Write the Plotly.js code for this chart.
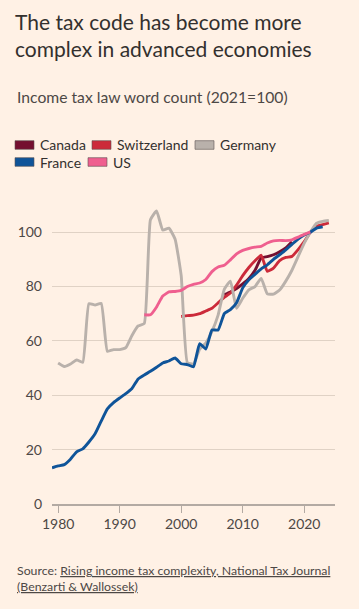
<!DOCTYPE html>
<html>
<head>
<meta charset="utf-8">
<script src="https://cdn.plot.ly/plotly-3.0.1.min.js"></script>
<style>
  html, body { margin: 0; padding: 0; background: #fff1e5; }
  #chart { width: 359px; height: 609px; }
</style>
</head>
<body>
<div id="chart"></div>
<script>
// ---- Data (income tax law word count, 2021 = 100) ----
const seriesNames = ["Canada", "Switzerland", "Germany", "France", "US"];
const seriesColors = ["#740f30", "#cc2a3a", "#b9b1ab", "#0f5499", "#ef5f8f"];

const canadaYears = [2007, 2008, 2009, 2010, 2011, 2012, 2013, 2014, 2015, 2016, 2017, 2018];
const canadaValues = [77, 78, 79.3, 81, 83, 86, 90.5, 91, 91.7, 92.8, 94.2, 96.5];

const switzerlandYears = [2000, 2001, 2002, 2003, 2004, 2005, 2006, 2007, 2008, 2009, 2010, 2011, 2012,
  2013, 2014, 2015, 2016, 2017, 2018, 2019, 2020, 2021, 2022, 2023, 2024];
const switzerlandValues = [69, 69.3, 69.5, 70, 71, 72, 74, 76, 77.6, 80.5, 84, 87, 89.5,
  91.5, 85.6, 86.8, 89.5, 90.7, 91.1, 93.6, 96.5, 100, 102.2, 102.8, 103.4];

const germanyYears = [1980, 1981, 1982, 1983, 1984, 1985, 1986, 1987, 1988, 1989, 1990, 1991, 1992,
  1993, 1994, 1995, 1996, 1997, 1998, 1999, 2000, 2001, 2002, 2003, 2004, 2005, 2006, 2007, 2008,
  2009, 2010, 2011, 2012, 2013, 2014, 2015, 2016, 2017, 2018, 2019, 2020, 2021, 2022, 2023, 2024];
const germanyValues = [51.9, 50.6, 51.5, 53, 52.1, 73.7, 73.2, 73.8, 56.2, 56.8, 56.8, 57.5, 62,
  65.5, 66.4, 104.6, 107.8, 100.8, 101.5, 97.5, 84, 52, 51.5, 57, 59.2, 63.5, 69.5, 79, 82,
  72, 75.7, 78.8, 80, 83, 77.3, 77.2, 78.7, 82, 86, 91, 96, 100, 103.3, 104, 104.3];

const franceYears = [1979, 1980, 1981, 1982, 1983, 1984, 1985, 1986, 1987, 1988, 1989, 1990, 1991,
  1992, 1993, 1994, 1995, 1996, 1997, 1998, 1999, 2000, 2001, 2002, 2003, 2004, 2005, 2006, 2007,
  2008, 2009, 2010, 2011, 2012, 2013, 2014, 2015, 2016, 2017, 2018, 2019, 2020, 2021, 2022, 2023];
const franceValues = [13.3, 14, 14.5, 16.5, 19.2, 20.3, 22.8, 25.8, 30.5, 35, 37.3, 39, 40.6,
  42.5, 46, 47.5, 48.8, 50.3, 51.9, 52.6, 53.7, 51.6, 51.3, 50.5, 59, 57, 64, 64, 70,
  71.5, 74, 79.5, 82.5, 84.5, 86.5, 88, 90, 91.7, 93.5, 95.5, 97.5, 99, 100, 101.5, 102];

const usYears = [1994, 1995, 1996, 1997, 1998, 1999, 2000, 2001, 2002, 2003, 2004, 2005, 2006, 2007,
  2008, 2009, 2010, 2011, 2012, 2013, 2014, 2015, 2016, 2017, 2018, 2019, 2020, 2021];
const usValues = [69.6, 69.6, 72.5, 76.5, 78, 78.2, 78.6, 80, 80.8, 81.3, 82.6, 85.5, 87.2, 87.8,
  89.8, 92, 93.3, 94, 94.5, 94.8, 96, 96.8, 97, 96.9, 97.2, 98.2, 99.2, 100];

const xTickVals = [1980, 1990, 2000, 2010, 2020];
const yTickVals = [0, 20, 40, 60, 80, 100];

const titleText = "The tax code has become more<br>complex in advanced economies";
const subtitleText = "Income tax law word count (2021=100)";
const sourceLine1 = "Source: <span style=\"text-decoration:underline\">Rising income tax complexity, National Tax Journal</span>";
const sourceLine2 = "<span style=\"text-decoration:underline\">(Benzarti &amp; Wallossek)</span>";

// ---- Layout geometry ----
const W = 359, H = 609;
const M = { l: 52, r: 24, t: 205, b: 105 };
const PW = W - M.l - M.r, PH = H - M.t - M.b;
const px = x => (x - M.l) / PW;          // pixel -> paper x
const py = y => (H - M.b - y) / PH;      // pixel -> paper y

const FONT = "Lato, 'Noto Sans', sans-serif";

const allX = [canadaYears, switzerlandYears, germanyYears, franceYears, usYears];
const allY = [canadaValues, switzerlandValues, germanyValues, franceValues, usValues];

const traces = seriesNames.map((name, i) => ({
  type: "scatter",
  mode: "lines",
  name: name,
  x: allX[i],
  y: allY[i],
  line: { color: seriesColors[i], width: 2.9, shape: "spline", smoothing: 0.4 },
  showlegend: false,
  hoverinfo: "x+y+name"
}));

// ---- Custom legend (rectangle swatches) ----
const legendPos = [
  { x: 15, y: 145 }, { x: 92, y: 145 }, { x: 195, y: 145 },
  { x: 15, y: 162 }, { x: 88, y: 162 }
];
const shapes = [];
const annotations = [];
seriesNames.forEach((name, i) => {
  const p = legendPos[i];
  shapes.push({
    type: "rect", xref: "paper", yref: "paper",
    x0: px(p.x), x1: px(p.x + 19), y0: py(p.y + 4.3), y1: py(p.y - 4.3),
    fillcolor: seriesColors[i], line: { color: "#5a5350", width: 0.6 }
  });
  annotations.push({
    xref: "paper", yref: "paper", x: px(p.x + 23), y: py(p.y),
    xanchor: "left", yanchor: "middle", showarrow: false,
    text: name, font: { family: FONT, size: 14, color: "#33302e" }
  });
});

annotations.push({
  xref: "paper", yref: "paper", x: px(15), y: py(97),
  xanchor: "left", yanchor: "middle", showarrow: false,
  text: subtitleText, font: { family: FONT, size: 15.7, color: "#4d4845" }
});
annotations.push({
  xref: "paper", yref: "paper", x: px(15), y: py(570),
  xanchor: "left", yanchor: "middle", showarrow: false,
  text: sourceLine1, font: { family: FONT, size: 12.3, color: "#4d4845" }
});
annotations.push({
  xref: "paper", yref: "paper", x: px(15), y: py(586),
  xanchor: "left", yanchor: "middle", showarrow: false,
  text: sourceLine2, font: { family: FONT, size: 12.3, color: "#4d4845" }
});

const layout = {
  width: W, height: H,
  margin: M,
  paper_bgcolor: "#fff1e5",
  plot_bgcolor: "#fff1e5",
  font: { family: FONT, color: "#4d4845" },
  title: {
    text: titleText,
    xref: "container", yref: "container",
    x: 15 / W, xanchor: "left",
    y: 1 - 30 / H, yanchor: "top",
    font: { family: FONT, size: 21, color: "#33302e", lineposition: "none" }
  },
  xaxis: {
    range: [1979, 2025],
    tickvals: xTickVals,
    ticktext: xTickVals.map(String),
    showgrid: false,
    zeroline: false,
    showline: true,
    linecolor: "#b3aaa3",
    linewidth: 1.5,
    ticks: "outside",
    ticklen: 7,
    tickwidth: 1.3,
    tickcolor: "#b3aaa3",
    tickfont: { family: FONT, size: 14, color: "#4d4845" },
    fixedrange: true
  },
  yaxis: {
    range: [0, 110],
    tickvals: yTickVals,
    showgrid: true,
    gridcolor: "#e0d2c5",
    gridwidth: 1,
    zeroline: false,
    showline: false,
    ticks: "",
    ticklabelstandoff: 9,
    tickfont: { family: FONT, size: 14, color: "#4d4845" },
    fixedrange: true
  },
  shapes: shapes,
  annotations: annotations,
  showlegend: false
};

Plotly.newPlot("chart", traces, layout, { displayModeBar: false, staticPlot: true });
</script>
</body>
</html>
